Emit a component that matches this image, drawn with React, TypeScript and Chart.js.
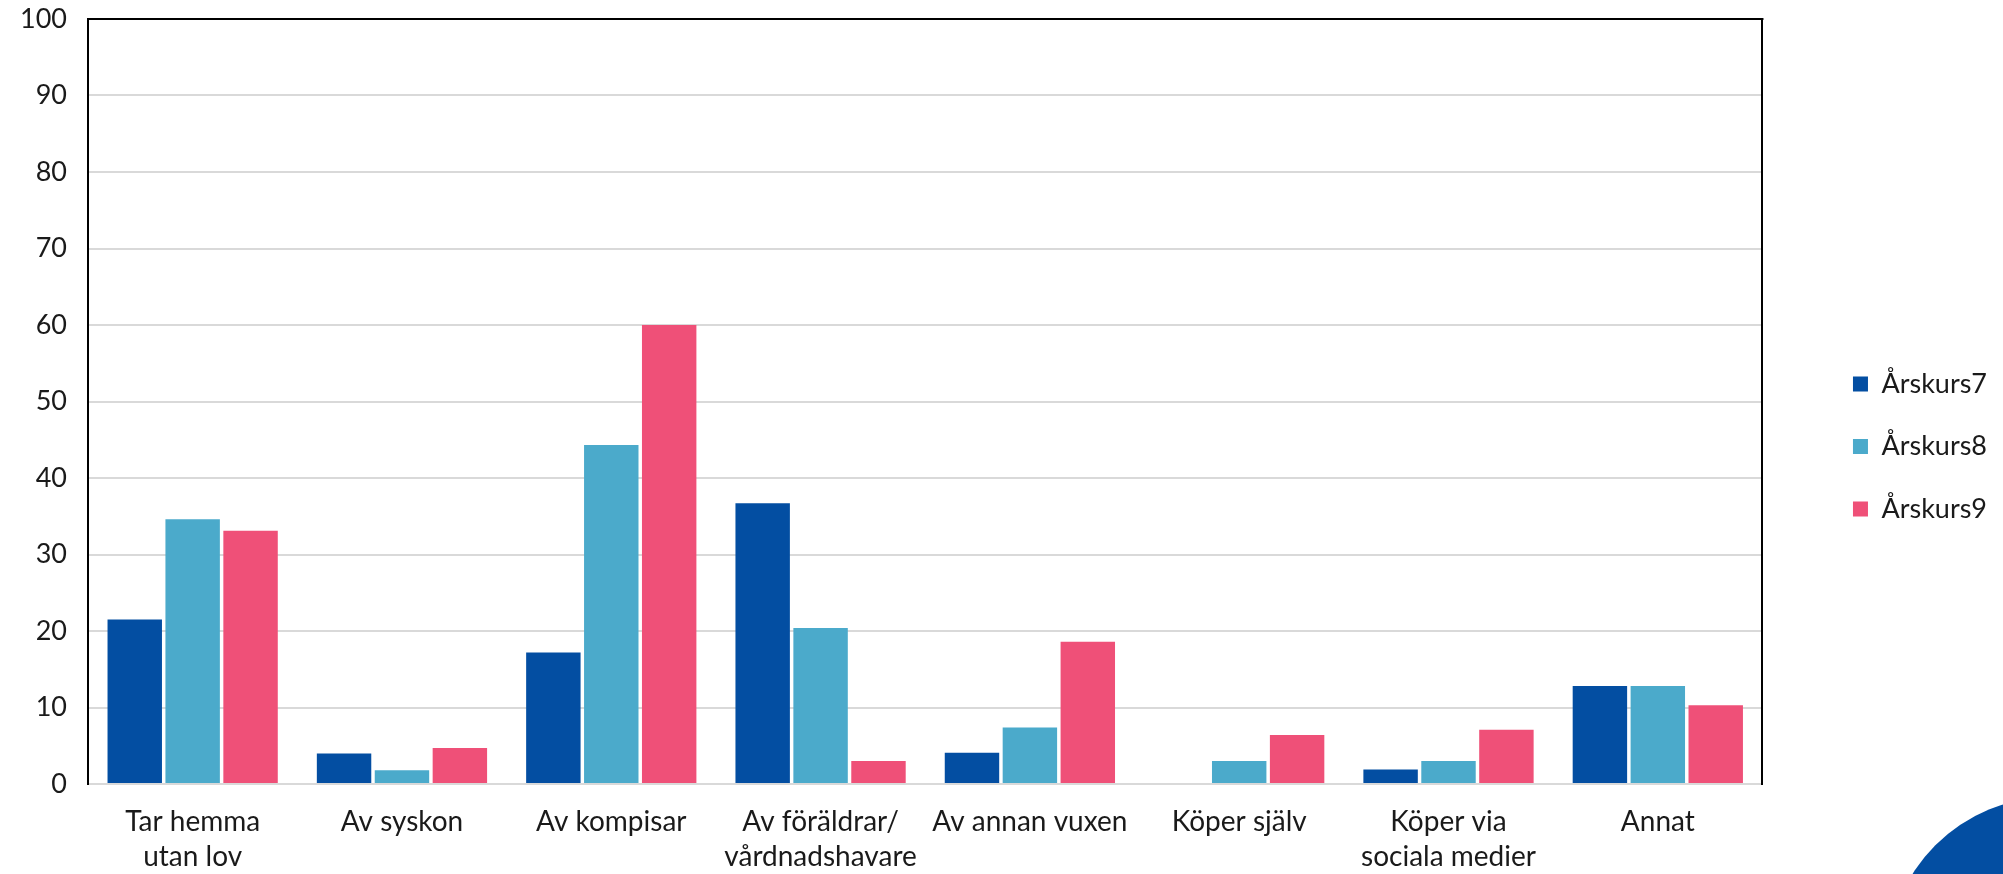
import React, { useEffect, useRef } from "react";
import { Chart, registerables } from "chart.js";

Chart.register(...registerables);

const categories: (string | string[])[] = [
  ["Tar hemma", "utan lov"],
  "Av syskon",
  "Av kompisar",
  ["Av föräldrar/", "vårdnadshavare"],
  "Av annan vuxen",
  "Köper själv",
  ["Köper via", "sociala medier"],
  "Annat",
];

const seriesNames = ["Årskurs7", "Årskurs8", "Årskurs9"];
const arskurs7 = [21.5, 4.0, 17.2, 36.7, 4.1, 0, 1.9, 12.8];
const arskurs8 = [34.6, 1.8, 44.3, 20.4, 7.4, 3.0, 3.0, 12.8];
const arskurs9 = [33.1, 4.7, 60.0, 3.0, 18.6, 6.4, 7.1, 10.3];
const seriesColors = ["#034EA2", "#4BAACB", "#EF5078"];

const yMin = 0;
const yMax = 100;
const yStep = 10;

const FONT = 'Lato, "Noto Sans", sans-serif';

const frameTop = {
  id: "frameTop",
  afterDraw(chart: any) {
    const { ctx, chartArea } = chart;
    ctx.save();
    ctx.strokeStyle = "#000000";
    ctx.lineWidth = 2;
    ctx.beginPath();
    ctx.moveTo(chartArea.left - 1, chartArea.top);
    ctx.lineTo(chartArea.right + 1, chartArea.top);
    ctx.stroke();
    ctx.restore();
  },
};

export default function App() {
  const ref = useRef<HTMLCanvasElement>(null);

  useEffect(() => {
    if (!ref.current) return;
    const values = [arskurs7, arskurs8, arskurs9];
    const chart = new Chart(ref.current, {
      type: "bar",
      data: {
        labels: categories,
        datasets: seriesNames.map((name, i) => ({
          label: name,
          data: values[i],
          backgroundColor: seriesColors[i],
          borderWidth: 0,
          categoryPercentage: 0.83,
          barPercentage: 0.94,
        })),
      },
      options: {
        animation: false,
        responsive: false,
        maintainAspectRatio: false,
        layout: { padding: { top: 19, bottom: 0, left: 0, right: 6 } },
        plugins: {
          tooltip: { enabled: false },
          legend: {
            position: "right",
            labels: {
              boxWidth: 15,
              boxHeight: 15,
              padding: 35.5,
              color: "#1a1a1a",
              font: { family: FONT, size: 27 },
            },
          },
        },
        scales: {
          x: {
            grid: { display: false },
            border: { display: true, color: "#d9d9d9", width: 2 },
            ticks: {
              color: "#1a1a1a",
              font: { family: FONT, size: 28, lineHeight: 1.25 },
              maxRotation: 0,
              autoSkip: false,
              padding: 12,
            },
            afterFit(scale: any) {
              scale.height = 90;
            },
          },
          y: {
            min: yMin,
            max: yMax,
            ticks: {
              stepSize: yStep,
              color: "#1a1a1a",
              font: { family: FONT, size: 27 },
              padding: 21,
            },
            grid: { color: "#d9d9d9", lineWidth: 2, drawTicks: false },
            border: { display: true, color: "#000000", width: 2 },
            afterFit(scale: any) {
              scale.width = 88;
              scale.paddingTop = 0;
              scale.paddingBottom = 0;
            },
          },
          y2: {
            position: "right",
            min: yMin,
            max: yMax,
            ticks: { display: false },
            grid: { drawOnChartArea: false, drawTicks: false },
            border: { display: true, color: "#000000", width: 2 },
            afterFit(scale: any) {
              scale.width = 55;
              scale.paddingTop = 0;
              scale.paddingBottom = 0;
            },
          },
        },
      },
      plugins: [frameTop],
    });
    return () => chart.destroy();
  }, []);

  return (
    <div
      style={{
        position: "fixed",
        left: 0,
        top: 0,
        width: 2003,
        height: 874,
        overflow: "hidden",
        background: "#ffffff",
      }}
    >
      <canvas ref={ref} width={2003} height={874} style={{ display: "block" }} />
      <div
        style={{
          position: "absolute",
          left: 2052 - 165,
          top: 962 - 165,
          width: 330,
          height: 330,
          borderRadius: "50%",
          background: "#034EA2",
        }}
      />
    </div>
  );
}
